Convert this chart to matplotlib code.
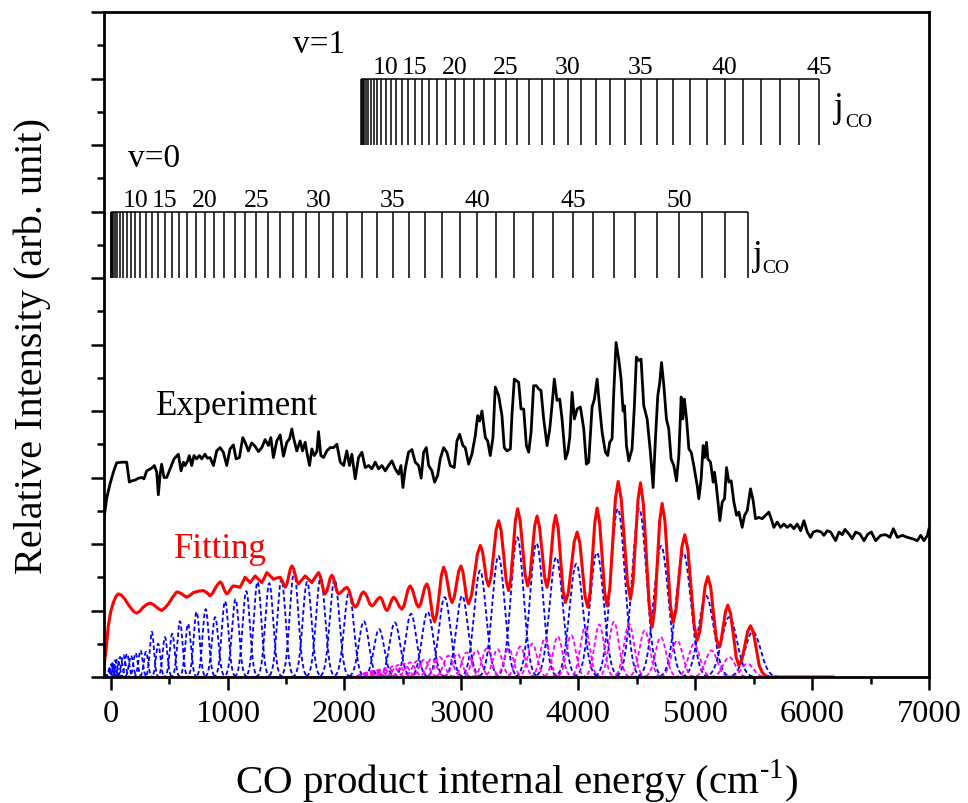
import numpy as np
import matplotlib.pyplot as plt
from matplotlib.ticker import MultipleLocator, NullFormatter

plt.rcParams['font.family'] = ['Liberation Serif', 'DejaVu Serif']
plt.rcParams['mathtext.fontset'] = 'custom'
plt.rcParams['mathtext.rm'] = 'Liberation Serif'

# CO spectroscopic constants (cm-1)
B0, B1, D = 1.9225, 1.9050, 6.12e-6
G1 = 2143.27
# energy calibration of the measured/fitted spectrum relative to the combs
CAL = 1.0075

# rotational levels shown in the combs
j_v0 = np.arange(0, 54)
j_v1 = np.arange(0, 46)
labels_v0 = [10, 15, 20, 25, 30, 35, 40, 45, 50]
labels_v1 = [10, 15, 20, 25, 30, 35, 40, 45]

# fitted populations of the individual rotational lines
amp_v0 = [0.15, 0.18, 0.20, 0.22, 0.25, 0.27, 0.30, 0.33, 0.35, 0.32,
          0.36, 0.40, 0.38, 0.68, 0.50, 0.60, 0.65, 0.84, 0.80, 0.98,
          1.02, 0.90, 1.14, 1.17, 1.29, 1.43, 1.41, 1.47, 1.58, 1.43,
          1.50, 1.47, 1.28, 0.84, 0.72, 0.82, 0.95, 0.98, 1.20, 1.22,
          1.60, 1.82, 2.10, 2.01, 1.80, 1.70, 1.87, 2.53, 2.53, 1.97,
          1.87, 1.22, 0.90, 0.68]
amp_v1 = [0.03, 0.04, 0.05, 0.06, 0.07, 0.08, 0.09, 0.10, 0.11, 0.12,
          0.14, 0.16, 0.18, 0.20, 0.22, 0.24, 0.26, 0.28, 0.30, 0.32,
          0.35, 0.37, 0.40, 0.43, 0.42, 0.43, 0.46, 0.50, 0.58, 0.61,
          0.63, 0.75, 0.79, 0.83, 0.80, 0.70, 0.60, 0.55, 0.50, 0.40,
          0.30, 0.20]

# measured spectrum
exp_e = [-57, -35, -6, 23, 51, 94, 137, 160, 180, 208, 237, 265, 285, 308, 350,
         374, 394, 408, 422, 436, 456, 479, 508, 542, 579, 602, 622, 636, 659,
         673, 693, 713, 736, 759, 779, 807, 827, 850, 879, 907, 936, 964, 993,
         1021, 1050, 1073, 1101, 1130, 1150, 1178, 1207, 1235, 1264, 1293, 1321,
         1350, 1370, 1392, 1421, 1450, 1478, 1507, 1530, 1550, 1564, 1592, 1621,
         1641, 1664, 1678, 1701, 1721, 1741, 1764, 1778, 1798, 1821, 1849, 1878,
         1907, 1935, 1964, 1993, 2020, 2043, 2063, 2092, 2120, 2149, 2177, 2206,
         2234, 2263, 2292, 2320, 2349, 2377, 2406, 2434, 2463, 2483, 2500, 2520,
         2548, 2577, 2605, 2634, 2656, 2677, 2700, 2720, 2748, 2771, 2797, 2819,
         2848, 2876, 2905, 2939, 2962, 2985, 3013, 3033, 3062, 3090, 3119, 3139,
         3156, 3176, 3205, 3225, 3247, 3270, 3290, 3319, 3347, 3367, 3390, 3419,
         3433, 3453, 3490, 3510, 3533, 3556, 3576, 3596, 3618, 3641, 3661, 3681,
         3704, 3733, 3756, 3775, 3795, 3818, 3841, 3861, 3890, 3910, 3927, 3947,
         3967, 3990, 4018, 4047, 4069, 4089, 4118, 4138, 4161, 4184, 4204, 4232,
         4252, 4269, 4289, 4303, 4323, 4346, 4366, 4383, 4395, 4412, 4432, 4460,
         4480, 4497, 4517, 4537, 4560, 4589, 4617, 4640, 4660, 4680, 4697, 4712,
         4732, 4754, 4774, 4794, 4817, 4840, 4860, 4880, 4894, 4908, 4926, 4946,
         4966, 4988, 5017, 5031, 5051, 5068, 5080, 5097, 5108, 5131, 5154, 5165,
         5180, 5194, 5211, 5231, 5251, 5268, 5288, 5308, 5331, 5354, 5374, 5402,
         5422, 5445, 5473, 5496, 5516, 5545, 5573, 5602, 5630, 5650, 5673, 5702,
         5730, 5759, 5787, 5816, 5844, 5873, 5902, 5930, 5959, 5987, 6010, 6044,
         6078, 6101, 6130, 6158, 6201, 6230, 6258, 6281, 6315, 6344, 6372, 6409,
         6444, 6478, 6507, 6543, 6587, 6629, 6666, 6695, 6729, 6772, 6815, 6857,
         6900, 6929, 6957, 6986, 7000]
exp_i = [2.38, 2.68, 2.90, 3.08, 3.22, 3.23, 3.23, 2.93, 2.95, 2.96, 2.99, 3.00,
         2.98, 3.10, 3.14, 3.18, 3.08, 2.74, 3.03, 3.20, 3.00, 3.00, 3.13, 3.28,
         3.35, 3.10, 3.23, 3.18, 3.25, 3.33, 3.18, 3.33, 3.28, 3.33, 3.28, 3.35,
         3.29, 3.30, 3.18, 3.40, 3.45, 3.38, 3.18, 3.43, 3.49, 3.28, 3.30, 3.60,
         3.53, 3.40, 3.52, 3.47, 3.39, 3.45, 3.57, 3.48, 3.60, 3.30, 3.55, 3.64,
         3.32, 3.53, 3.58, 3.73, 3.60, 3.40, 3.55, 3.40, 3.53, 3.38, 3.18, 3.43,
         3.33, 3.39, 3.69, 3.33, 3.30, 3.40, 3.45, 3.45, 3.50, 3.23, 3.18, 3.40,
         3.18, 3.35, 2.98, 3.30, 3.38, 3.15, 3.18, 3.13, 3.23, 3.13, 3.18, 3.10,
         3.18, 3.25, 3.13, 3.05, 3.18, 2.85, 3.13, 3.38, 3.42, 3.23, 3.18, 2.99,
         3.38, 3.45, 3.18, 3.10, 2.93, 3.03, 3.28, 3.45, 3.38, 3.18, 3.15, 3.55,
         3.65, 3.48, 3.45, 3.20, 3.35, 3.63, 3.93, 3.85, 4.00, 3.60, 3.55, 3.33,
         3.60, 4.36, 4.23, 3.93, 3.45, 3.40, 3.43, 3.95, 4.48, 4.43, 4.03, 4.03,
         3.48, 3.38, 3.68, 4.38, 4.38, 4.33, 4.31, 3.88, 3.48, 3.73, 4.08, 4.48,
         4.16, 4.18, 3.88, 3.28, 3.38, 3.60, 4.28, 3.88, 4.03, 4.06, 3.73, 3.20,
         3.23, 4.06, 4.18, 4.48, 4.03, 3.68, 3.38, 3.33, 3.53, 3.58, 4.26, 5.03,
         4.78, 4.48, 4.00, 4.08, 3.48, 3.25, 3.43, 4.08, 4.81, 4.76, 4.78, 4.08,
         3.88, 3.38, 2.85, 3.58, 4.23, 4.43, 4.73, 4.38, 3.88, 3.73, 3.28, 3.18,
         2.95, 3.33, 4.21, 3.88, 4.18, 3.88, 3.43, 3.38, 3.18, 2.88, 2.68, 2.98,
         3.48, 3.30, 3.53, 3.28, 3.23, 2.93, 3.08, 2.88, 2.65, 2.35, 2.63, 2.68,
         3.15, 2.93, 2.95, 2.63, 2.43, 2.48, 2.25, 2.43, 2.50, 2.83, 2.65, 2.38,
         2.40, 2.38, 2.43, 2.48, 2.38, 2.25, 2.33, 2.25, 2.30, 2.25, 2.29, 2.23,
         2.30, 2.20, 2.35, 2.18, 2.10, 2.18, 2.20, 2.18, 2.13, 2.20, 2.18, 2.05,
         2.18, 2.14, 2.22, 2.15, 2.08, 2.18, 2.15, 2.05, 2.15, 2.18, 2.05, 2.13,
         2.14, 2.10, 2.23, 2.10, 2.13, 2.10, 2.08, 2.05, 2.13, 2.05, 2.13, 2.23]

# fitted spectrum
fit_e = [-57, -40, -20, 0, 23, 45, 65, 92, 122, 150, 180, 200, 222, 250, 279,
         308, 336, 365, 394, 415, 436, 465, 494, 530, 565, 587, 608, 630, 650,
         680, 708, 750, 793, 822, 850, 872, 893, 915, 936, 950, 965, 980, 993,
         1008, 1022, 1036, 1050, 1078, 1107, 1128, 1150, 1171, 1193, 1214, 1236,
         1264, 1293, 1314, 1336, 1364, 1393, 1421, 1450, 1471, 1493, 1508, 1522,
         1536, 1550, 1564, 1578, 1592, 1606, 1635, 1664, 1692, 1721, 1750, 1778,
         1792, 1806, 1821, 1835, 1849, 1864, 1878, 1892, 1906, 1920, 1935, 1949,
         1967, 1985, 2002, 2020, 2038, 2056, 2074, 2092, 2110, 2128, 2145, 2163,
         2181, 2199, 2216, 2234, 2252, 2270, 2288, 2306, 2320, 2334, 2349, 2363,
         2377, 2392, 2406, 2420, 2438, 2456, 2473, 2491, 2509, 2527, 2544, 2562,
         2580, 2598, 2616, 2634, 2652, 2670, 2687, 2705, 2722, 2738, 2755, 2771,
         2790, 2810, 2829, 2848, 2866, 2884, 2902, 2920, 2939, 2958, 2977, 2996,
         3012, 3029, 3045, 3062, 3087, 3112, 3137, 3162, 3180, 3198, 3215, 3233,
         3254, 3276, 3297, 3319, 3340, 3362, 3383, 3404, 3423, 3443, 3462, 3481,
         3502, 3524, 3545, 3567, 3587, 3607, 3627, 3647, 3668, 3690, 3711, 3733,
         3751, 3770, 3788, 3807, 3828, 3848, 3869, 3890, 3915, 3940, 3965, 3990,
         4013, 4035, 4058, 4081, 4101, 4121, 4141, 4161, 4182, 4204, 4225, 4246,
         4270, 4294, 4317, 4341, 4367, 4394, 4420, 4446, 4468, 4489, 4511, 4532,
         4557, 4582, 4607, 4632, 4653, 4675, 4696, 4717, 4741, 4764, 4788, 4811,
         4836, 4861, 4886, 4911, 4938, 4964, 4991, 5017, 5040, 5063, 5085, 5108,
         5132, 5155, 5179, 5202, 5221, 5241, 5260, 5279, 5303, 5327, 5350, 5374,
         5399, 5424, 5448, 5473, 5498, 5523, 5548, 5573, 5595, 5616, 5640, 6181]
fit_i = [0.17, 0.40, 0.77, 0.98, 1.12, 1.21, 1.25, 1.23, 1.17, 1.09, 1.02, 0.98,
         0.96, 0.99, 1.05, 1.09, 1.11, 1.09, 1.05, 1.02, 1.00, 1.04, 1.10, 1.20,
         1.28, 1.27, 1.25, 1.22, 1.20, 1.23, 1.27, 1.29, 1.30, 1.27, 1.22, 1.26,
         1.33, 1.39, 1.43, 1.41, 1.34, 1.28, 1.25, 1.27, 1.31, 1.35, 1.37, 1.36,
         1.35, 1.42, 1.50, 1.46, 1.42, 1.47, 1.52, 1.47, 1.42, 1.49, 1.57, 1.52,
         1.47, 1.49, 1.50, 1.43, 1.35, 1.40, 1.51, 1.62, 1.67, 1.63, 1.54, 1.45,
         1.40, 1.46, 1.52, 1.47, 1.42, 1.50, 1.57, 1.52, 1.41, 1.30, 1.25, 1.29,
         1.39, 1.49, 1.53, 1.49, 1.39, 1.29, 1.25, 1.27, 1.30, 1.33, 1.35, 1.31,
         1.20, 1.09, 1.05, 1.08, 1.17, 1.25, 1.28, 1.25, 1.18, 1.10, 1.07, 1.09,
         1.14, 1.18, 1.20, 1.17, 1.10, 1.03, 1.00, 1.03, 1.10, 1.17, 1.20, 1.17,
         1.11, 1.05, 1.02, 1.07, 1.20, 1.32, 1.37, 1.32, 1.21, 1.10, 1.05, 1.10,
         1.23, 1.35, 1.40, 1.32, 1.12, 0.91, 0.83, 0.95, 1.24, 1.53, 1.65, 1.57,
         1.39, 1.20, 1.12, 1.20, 1.40, 1.59, 1.67, 1.59, 1.39, 1.18, 1.10, 1.23,
         1.54, 1.85, 1.98, 1.89, 1.68, 1.46, 1.37, 1.51, 1.86, 2.21, 2.35, 2.20,
         1.83, 1.45, 1.30, 1.48, 1.92, 2.35, 2.53, 2.36, 1.95, 1.54, 1.37, 1.52,
         1.90, 2.27, 2.42, 2.26, 1.89, 1.51, 1.35, 1.51, 1.89, 2.27, 2.43, 2.24,
         1.78, 1.31, 1.12, 1.27, 1.65, 2.03, 2.18, 2.02, 1.62, 1.21, 1.05, 1.27,
         1.80, 2.32, 2.54, 2.33, 1.81, 1.28, 1.07, 1.34, 2.01, 2.67, 2.94, 2.68,
         2.06, 1.43, 1.17, 1.43, 2.05, 2.67, 2.92, 2.60, 1.84, 1.07, 0.75, 1.02,
         1.68, 2.34, 2.61, 2.35, 1.72, 1.08, 0.82, 1.01, 1.48, 1.95, 2.14, 1.91,
         1.35, 0.78, 0.55, 0.69, 1.03, 1.37, 1.51, 1.36, 0.98, 0.60, 0.45, 0.54,
         0.77, 0.99, 1.08, 0.95, 0.63, 0.30, 0.17, 0.26, 0.47, 0.68, 0.77, 0.67,
         0.42, 0.17, 0.07, 0.03, 0.01, 0.0, 0.0]


def term(j, B, origin=0.0):
    n = j * (j + 1.0)
    return origin + B * n - D * n ** 2


def line_widths(pos, floor):
    # gaussian width follows the local line spacing, with a resolution floor
    spacing = np.gradient(pos)
    return np.maximum(0.33 * spacing, floor)


e_v0 = term(j_v0, B0)
e_v1 = term(j_v1, B1, G1)

fig = plt.figure(figsize=(9.68, 8.04), dpi=100)
ax = fig.add_axes([104 / 968, 1 - 678 / 804, 825 / 968, 665 / 804])

x = np.arange(-57.0, 6181.0, 1.0)
for pos, amps, color, floor in [(e_v0 * CAL, amp_v0, 'blue', 18.0),
                                (e_v1[:len(amp_v1)] * CAL, amp_v1, 'magenta', 40.0)]:
    sig = line_widths(pos, floor)
    for p, a, s in zip(pos, amps, sig):
        ax.plot(x, a * np.exp(-0.5 * ((x - p) / s) ** 2), color=color,
                lw=1.3, ls=(0, (2.5, 1.5)))

ax.plot(fit_e, fit_i, color='red', lw=2.2)
ax.plot(exp_e, exp_i, color='black', lw=2.0)

# rotational combs
for pos, lo, labs in [(e_v0, 6.0, labels_v0), (e_v1, 8.0, labels_v1)]:
    ax.vlines(pos, lo, lo + 1, color='black', lw=1.1)
    ax.hlines(lo + 1, pos[0], pos[-1], color='black', lw=1.1)
    for j in labs:
        ax.text(pos[j], lo + 1.08, str(j), ha='center', va='baseline', fontsize=18.5)

ax.text(148, 7.68, 'v=0', fontsize=24)
ax.text(1561, 9.40, 'v=1', fontsize=24)
ax.text(5491, 6.21, 'j', fontsize=25)
ax.text(5576, 6.09, 'CO', fontsize=14)
ax.text(6184, 8.44, 'j', fontsize=25)
ax.text(6287, 8.29, 'CO', fontsize=14)
ax.text(388, 3.95, 'Experiment', fontsize=25)
ax.text(542, 1.80, 'Fitting', fontsize=25, color='red')

ax.set_xlim(-57, 7000)
ax.set_ylim(0, 10)
ax.xaxis.set_major_locator(MultipleLocator(1000))
ax.xaxis.set_minor_locator(MultipleLocator(500))
ax.yaxis.set_major_locator(MultipleLocator(1))
ax.yaxis.set_minor_locator(MultipleLocator(0.5))
ax.yaxis.set_major_formatter(NullFormatter())
ax.tick_params(which='both', direction='out', width=1.8, top=False, right=False)
ax.tick_params(which='major', length=9.5, labelsize=23.4, pad=6)
ax.tick_params(which='minor', length=5)
for sp in ax.spines.values():
    sp.set_linewidth(2.0)

fig.text(516 / 968, 1 - 794 / 804, 'CO product internal energy (cm$^{\\mathregular{\u20101}}$)',
         ha='center', va='baseline', fontsize=29.5)
ax.set_ylabel('Relative Intensity (arb. unit)', fontsize=29)
ax.yaxis.set_label_coords(-0.064, 0.5)

fig.savefig('out.png', dpi=100)
